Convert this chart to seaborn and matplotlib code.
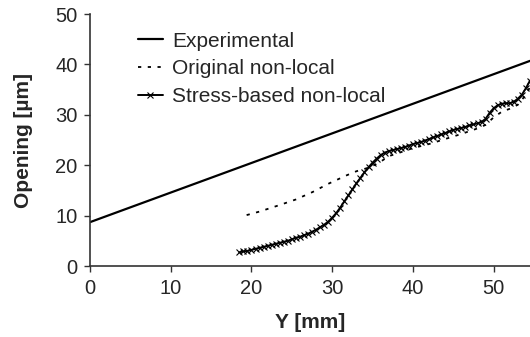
import matplotlib
matplotlib.use("Agg")
import matplotlib.pyplot as plt
import seaborn as sns
import pandas as pd

# Experimental (linear)
exp_x = [0.0, 54.5]
exp_y = [8.7, 40.7]

# Original non-local (dotted)
orig_x = [19.4, 21.0, 23.5, 25.5, 27.6, 29.5, 31.8, 33.0, 34.7, 36.0, 37.0, 38.0,
          40.0, 42.0, 44.0, 46.0, 48.0, 49.0, 50.0, 51.0, 52.0, 53.0, 54.0, 54.5]
orig_y = [10.1, 10.8, 12.1, 13.2, 14.7, 16.3, 18.0, 18.8, 19.6, 20.7, 21.8, 22.3,
          23.4, 24.2, 25.2, 26.2, 27.3, 28.0, 29.5, 30.6, 31.2, 32.0, 34.0, 35.5]

# Stress-based non-local
sb_x = [18.5, 19.0, 19.5, 20.0, 20.5, 21.0, 21.5, 22.0, 22.5, 23.0, 23.5, 24.0,
        24.5, 25.0, 25.5, 26.0, 26.5, 27.0, 27.5, 28.0, 28.5, 29.0, 29.5, 30.0,
        30.5, 31.0, 31.5, 32.0, 32.5, 33.0, 33.5, 34.0, 34.5, 35.0, 35.5, 36.0,
        36.5, 37.0, 37.5, 38.0, 38.5, 39.0, 39.5, 40.0, 40.5, 41.0, 41.5, 42.0,
        42.5, 43.0, 43.5, 44.0, 44.5, 45.0, 45.5, 46.0, 46.5, 47.0, 47.5, 48.0,
        48.5, 49.0, 49.5, 50.0, 50.5, 51.0, 51.5, 52.0, 52.5, 53.0, 53.5, 54.0, 54.5]
sb_y = [2.7, 2.9, 3.0, 3.2, 3.4, 3.6, 3.8, 4.0, 4.2, 4.4, 4.6, 4.8,
        5.0, 5.3, 5.6, 5.8, 6.1, 6.4, 6.8, 7.2, 7.7, 8.2, 8.8, 9.6,
        10.5, 11.6, 12.8, 14.0, 15.2, 16.4, 17.5, 18.6, 19.6, 20.5, 21.3, 22.0,
        22.5, 22.8, 23.0, 23.2, 23.4, 23.6, 23.9, 24.2, 24.4, 24.6, 24.9, 25.2,
        25.5, 25.8, 26.1, 26.4, 26.7, 27.0, 27.2, 27.4, 27.6, 27.9, 28.1, 28.3,
        28.6, 29.2, 30.4, 31.3, 31.9, 32.2, 32.3, 32.3, 32.6, 33.2, 34.0, 35.3, 36.8]

labels = ["Experimental", "Original non-local", "Stress-based non-local"]
x_ticks = [0, 10, 20, 30, 40, 50]
y_ticks = [0, 10, 20, 30, 40, 50]

sns.set_style("ticks")
plt.rcParams["font.family"] = ["Liberation Sans", "DejaVu Sans"]

fig = plt.figure(figsize=(5.30, 3.37), dpi=100)
ax = fig.add_axes([90 / 530, 1 - 266 / 337, 440 / 530, 252 / 337])

sns.lineplot(x=exp_x, y=exp_y, ax=ax, color="black", lw=1.6, label=labels[0])
sns.lineplot(x=orig_x, y=orig_y, ax=ax, color="black", lw=1.3, ls=(0, (1.8, 3.6)),
             label=labels[1])
sns.lineplot(x=sb_x, y=sb_y, ax=ax, color="black", lw=1.4, marker="x", ms=4,
             mew=0.8, mec="black", mfc="black", label=labels[2])

ax.set_xlim(0, 54.5)
ax.set_ylim(0, 50)
ax.set_xticks(x_ticks)
ax.set_yticks(y_ticks)
ax.tick_params(labelsize=14.5, length=4, width=1, color="#333333", pad=5)
for s in ["top", "right"]:
    ax.spines[s].set_visible(False)
for s in ["left", "bottom"]:
    ax.spines[s].set_linewidth(1.2)
    ax.spines[s].set_color("#333333")

ax.set_xlabel("Y [mm]", fontsize=15, fontweight="bold", labelpad=11)
ax.set_ylabel("Opening [µm]", fontsize=15, fontweight="bold", labelpad=16)

leg = ax.legend(loc="upper left", bbox_to_anchor=(0.109, 0.93), frameon=False,
                fontsize=15, handlelength=1.2, handletextpad=0.45, labelspacing=0.42,
                borderpad=0, borderaxespad=0)

fig.savefig("out.png", dpi=100)
